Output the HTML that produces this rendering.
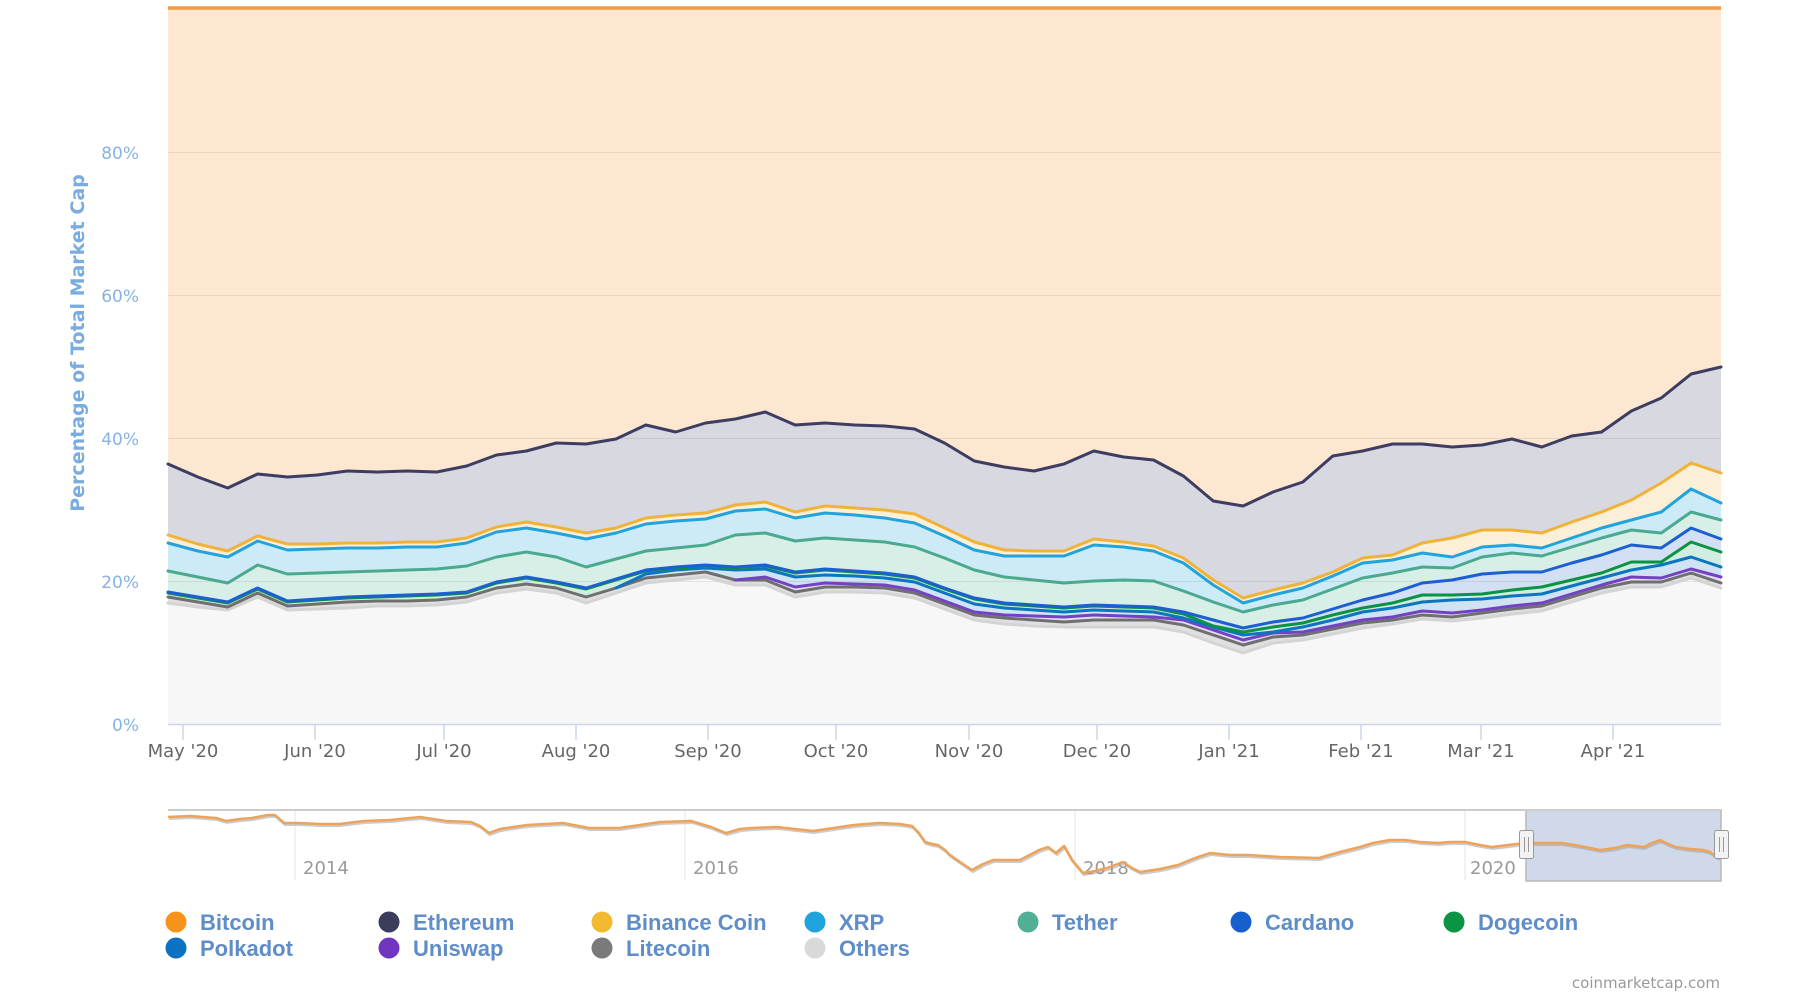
<!DOCTYPE html>
<html><head><meta charset="utf-8"><style>
html,body{margin:0;padding:0;background:#fff;}
svg{display:block;}
.yl{font-family:"DejaVu Sans",sans-serif;font-size:17px;fill:#86b3e3;text-anchor:end;}
.xl{font-family:"DejaVu Sans",sans-serif;font-size:18px;fill:#666;text-anchor:middle;}
.nl{font-family:"DejaVu Sans",sans-serif;font-size:18px;fill:#999;}
.lg{font-family:"Liberation Sans",sans-serif;font-size:22px;font-weight:bold;fill:#5f8dc7;}
.ln{fill:none;stroke-width:3;stroke-linejoin:round;stroke-linecap:round;}
</style></head><body>
<svg width="1800" height="1000" viewBox="0 0 1800 1000" xmlns="http://www.w3.org/2000/svg">
<rect width="1800" height="1000" fill="#fff"/>
<rect x="168" y="8" width="1553" height="716" fill="#fde7d0"/>
<g transform="translate(168,0) scale(29.865,1)">
<polygon fill="#d8d8e1" points="0,464 1,477 2,488 3,474 4,477 5,475 6,471 7,472 8,471 9,472 10,466 11,455 12,451 13,443 14,444 15,439 16,425 17,432 18,423 19,419 20,412 21,425 22,423 23,425 24,426 25,429 26,443 27,461 28,467 29,471 30,464 31,451 32,457 33,460 34,476 35,501 36,506 37,492 38,482 39,456 40,451 41,444 42,444 43,447 44,445 45,439 46,447 47,436 48,432 49,411 50,398 51,374 52,367 52,724 0,724"/>
<polygon fill="#fcefd8" points="0,535 1,544 2,551 3,536 4,544 5,544 6,543 7,543 8,542 9,542 10,538 11,527 12,522 13,527 14,533 15,528 16,518 17,515 18,513 19,505 20,502 21,512 22,506 23,508 24,510 25,514 26,528 27,542 28,550 29,551 30,551 31,539 32,542 33,546 34,558 35,580 36,598 37,590 38,583 39,572 40,558 41,555 42,543 43,538 44,530 45,530 46,533 47,522 48,512 49,500 50,483 51,463 52,473 52,724 0,724"/>
<polygon fill="#cdeaf7" points="0,543 1,551 2,557 3,541 4,550 5,549 6,548 7,548 8,547 9,547 10,543 11,532 12,528 13,533 14,539 15,533 16,524 17,521 18,519 19,511 20,509 21,518 22,513 23,515 24,518 25,523 26,536 27,550 28,556 29,556 30,556 31,545 32,547 33,551 34,563 35,585 36,603 37,595 38,588 39,576 40,563 41,560 42,553 43,557 44,547 45,545 46,548 47,538 48,528 49,520 50,512 51,489 52,503 52,724 0,724"/>
<polygon fill="#d8efe8" points="0,571 1,577 2,583 3,565 4,574 5,573 6,572 7,571 8,570 9,569 10,566 11,557 12,552 13,557 14,567 15,559 16,551 17,548 18,545 19,535 20,533 21,541 22,538 23,540 24,542 25,547 26,558 27,570 28,577 29,580 30,583 31,581 32,580 33,581 34,591 35,602 36,612 37,605 38,600 39,589 40,578 41,573 42,567 43,568 44,557 45,553 46,556 47,547 48,538 49,530 50,533 51,512 52,520 52,724 0,724"/>
<polygon fill="#d3e0f4" points="0,592 1,597 2,602 3,588 4,601 5,599 6,597 7,596 8,595 9,594 10,592 11,582 12,577 13,582 14,588 15,579 16,570 17,567 18,565 19,567 20,565 21,572 22,569 23,571 24,573 25,577 26,588 27,598 28,603 29,605 30,607 31,605 32,606 33,607 34,612 35,620 36,628 37,622 38,618 39,609 40,600 41,593 42,583 43,580 44,574 45,572 46,572 47,563 48,555 49,545 50,548 51,528 52,539 52,724 0,724"/>
<polygon fill="#d1ece0" points="0,593 1,598 2,603 3,589 4,602 5,600 6,598 7,597 8,596 9,595 10,593 11,583 12,578 13,583 14,589 15,580 16,571 17,568 18,566 19,568 20,566 21,573 22,570 23,572 24,574 25,578 26,589 27,599 28,604 29,606 30,608 31,606 32,607 33,608 34,614 35,626 36,632 37,627 38,623 39,615 40,608 41,603 42,595 43,595 44,594 45,590 46,587 47,580 48,573 49,562 50,562 51,542 52,552 52,724 0,724"/>
<polygon fill="#cfe3f3" points="0,597 1,602 2,607 3,593 4,606 5,604 6,602 7,601 8,601 9,600 10,597 11,588 12,584 13,588 14,597 15,588 16,574 17,570 18,568 19,570 20,569 21,577 22,575 23,576 24,578 25,582 26,593 27,604 28,608 29,610 30,612 31,610 32,611 33,612 34,618 35,627 36,635 37,632 38,627 39,620 40,612 41,608 42,602 43,600 44,599 45,596 46,594 47,586 48,578 49,570 50,565 51,557 52,567 52,724 0,724"/>
<polygon fill="#e4dcf2" points="0,597 1,602 2,607 3,593 4,606 5,604 6,602 7,601 8,601 9,600 10,597 11,588 12,584 13,588 14,597 15,588 16,578 17,575 18,572 19,580 20,577 21,587 22,583 23,584 24,585 25,590 26,601 27,612 28,615 29,616 30,617 31,615 32,616 33,617 34,620 35,630 36,640 37,633 38,632 39,626 40,620 41,617 42,611 43,613 44,610 45,606 46,603 47,594 48,585 49,577 50,578 51,569 52,577 52,724 0,724"/>
<polygon fill="#e0e0e0" points="0,597 1,602 2,607 3,593 4,606 5,604 6,602 7,601 8,601 9,600 10,597 11,588 12,584 13,588 14,597 15,588 16,578 17,575 18,572 19,580 20,580 21,592 22,587 23,587 24,588 25,593 26,604 27,615 28,618 29,620 30,622 31,620 32,620 33,620 34,625 35,635 36,645 37,637 38,635 39,629 40,623 41,620 42,615 43,617 44,613 45,609 46,606 47,597 48,588 49,582 50,582 51,573 52,583 52,724 0,724"/>
<polygon fill="#f7f7f7" points="0,603 1,607 2,610 3,597 4,610 5,609 6,608 7,606 8,606 9,605 10,602 11,593 12,589 13,593 14,603 15,593 16,583 17,580 18,577 19,585 20,585 21,597 22,592 23,592 24,593 25,598 26,609 27,620 28,624 29,626 30,627 31,627 32,627 33,627 34,632 35,643 36,653 37,643 38,640 39,634 40,628 41,624 42,619 43,621 44,618 45,614 46,611 47,602 48,593 49,587 50,587 51,578 52,588 52,724 0,724"/>
</g>
<!-- gridlines -->
<g stroke="#000" stroke-opacity="0.08" stroke-width="1">
<line x1="168" y1="152.5" x2="1721" y2="152.5"/>
<line x1="168" y1="295.5" x2="1721" y2="295.5"/>
<line x1="168" y1="438.5" x2="1721" y2="438.5"/>
<line x1="168" y1="581.5" x2="1721" y2="581.5"/>
</g>
<g transform="translate(168,0) scale(29.865,1)">
<polyline class="ln" vector-effect="non-scaling-stroke" stroke="#d4d4d4" points="0,603 1,607 2,610 3,597 4,610 5,609 6,608 7,606 8,606 9,605 10,602 11,593 12,589 13,593 14,603 15,593 16,583 17,580 18,577 19,585 20,585 21,597 22,592 23,592 24,593 25,598 26,609 27,620 28,624 29,626 30,627 31,627 32,627 33,627 34,632 35,643 36,653 37,643 38,640 39,634 40,628 41,624 42,619 43,621 44,618 45,614 46,611 47,602 48,593 49,587 50,587 51,578 52,588"/>
<polyline class="ln" vector-effect="non-scaling-stroke" stroke="#6f6f6f" points="0,597 1,602 2,607 3,593 4,606 5,604 6,602 7,601 8,601 9,600 10,597 11,588 12,584 13,588 14,597 15,588 16,578 17,575 18,572 19,580 20,580 21,592 22,587 23,587 24,588 25,593 26,604 27,615 28,618 29,620 30,622 31,620 32,620 33,620 34,625 35,635 36,645 37,637 38,635 39,629 40,623 41,620 42,615 43,617 44,613 45,609 46,606 47,597 48,588 49,582 50,582 51,573 52,583"/>
<polyline class="ln" vector-effect="non-scaling-stroke" stroke="#7242c2" points="19,580 20,577 21,587 22,583 23,584 24,585 25,590 26,601 27,612 28,615 29,616 30,617 31,615 32,616 33,617 34,620 35,630 36,640 37,633 38,632 39,626 40,620 41,617 42,611 43,613 44,610 45,606 46,603 47,594 48,585 49,577 50,578 51,569 52,577"/>
<polyline class="ln" vector-effect="non-scaling-stroke" stroke="#0c75c0" points="15,588 16,574 17,570 18,568 19,570 20,569 21,577 22,575 23,576 24,578 25,582 26,593 27,604 28,608 29,610 30,612 31,610 32,611 33,612 34,618 35,627 36,635 37,632 38,627 39,620 40,612 41,608 42,602 43,600 44,599 45,596 46,594 47,586 48,578 49,570 50,565 51,557 52,567"/>
<polyline class="ln" vector-effect="non-scaling-stroke" stroke="#0a9343" points="0,593 1,598 2,603 3,589 4,602 5,600 6,598 7,597 8,596 9,595 10,593 11,583 12,578 13,583 14,589 15,580 16,571 17,568 18,566 19,568 20,566 21,573 22,570 23,572 24,574 25,578 26,589 27,599 28,604 29,606 30,608 31,606 32,607 33,608 34,614 35,626 36,632 37,627 38,623 39,615 40,608 41,603 42,595 43,595 44,594 45,590 46,587 47,580 48,573 49,562 50,562 51,542 52,552"/>
<polyline class="ln" vector-effect="non-scaling-stroke" stroke="#1c5fd1" points="0,592 1,597 2,602 3,588 4,601 5,599 6,597 7,596 8,595 9,594 10,592 11,582 12,577 13,582 14,588 15,579 16,570 17,567 18,565 19,567 20,565 21,572 22,569 23,571 24,573 25,577 26,588 27,598 28,603 29,605 30,607 31,605 32,606 33,607 34,612 35,620 36,628 37,622 38,618 39,609 40,600 41,593 42,583 43,580 44,574 45,572 46,572 47,563 48,555 49,545 50,548 51,528 52,539"/>
<polyline class="ln" vector-effect="non-scaling-stroke" stroke="#4aa98e" points="0,571 1,577 2,583 3,565 4,574 5,573 6,572 7,571 8,570 9,569 10,566 11,557 12,552 13,557 14,567 15,559 16,551 17,548 18,545 19,535 20,533 21,541 22,538 23,540 24,542 25,547 26,558 27,570 28,577 29,580 30,583 31,581 32,580 33,581 34,591 35,602 36,612 37,605 38,600 39,589 40,578 41,573 42,567 43,568 44,557 45,553 46,556 47,547 48,538 49,530 50,533 51,512 52,520"/>
<polyline class="ln" vector-effect="non-scaling-stroke" stroke="#22a3db" points="0,543 1,551 2,557 3,541 4,550 5,549 6,548 7,548 8,547 9,547 10,543 11,532 12,528 13,533 14,539 15,533 16,524 17,521 18,519 19,511 20,509 21,518 22,513 23,515 24,518 25,523 26,536 27,550 28,556 29,556 30,556 31,545 32,547 33,551 34,563 35,585 36,603 37,595 38,588 39,576 40,563 41,560 42,553 43,557 44,547 45,545 46,548 47,538 48,528 49,520 50,512 51,489 52,503"/>
<polyline class="ln" vector-effect="non-scaling-stroke" stroke="#f0b33a" points="0,535 1,544 2,551 3,536 4,544 5,544 6,543 7,543 8,542 9,542 10,538 11,527 12,522 13,527 14,533 15,528 16,518 17,515 18,513 19,505 20,502 21,512 22,506 23,508 24,510 25,514 26,528 27,542 28,550 29,551 30,551 31,539 32,542 33,546 34,558 35,580 36,598 37,590 38,583 39,572 40,558 41,555 42,543 43,538 44,530 45,530 46,533 47,522 48,512 49,500 50,483 51,463 52,473"/>
<polyline class="ln" vector-effect="non-scaling-stroke" stroke="#3d3d62" points="0,464 1,477 2,488 3,474 4,477 5,475 6,471 7,472 8,471 9,472 10,466 11,455 12,451 13,443 14,444 15,439 16,425 17,432 18,423 19,419 20,412 21,425 22,423 23,425 24,426 25,429 26,443 27,461 28,467 29,471 30,464 31,451 32,457 33,460 34,476 35,501 36,506 37,492 38,482 39,456 40,451 41,444 42,444 43,447 44,445 45,439 46,447 47,436 48,432 49,411 50,398 51,374 52,367"/>
</g>
<line x1="168" y1="8" x2="1721" y2="8" stroke="#f29a3f" stroke-width="3.5"/>
<!-- x axis -->
<line x1="168" y1="724.5" x2="1721" y2="724.5" stroke="#ccd6eb" stroke-width="1.5"/>
<g stroke="#ccd6eb" stroke-width="1.5">
<line x1="183" y1="724" x2="183" y2="740"/><line x1="315" y1="724" x2="315" y2="740"/><line x1="444" y1="724" x2="444" y2="740"/><line x1="576" y1="724" x2="576" y2="740"/><line x1="708" y1="724" x2="708" y2="740"/><line x1="836" y1="724" x2="836" y2="740"/><line x1="969" y1="724" x2="969" y2="740"/><line x1="1097" y1="724" x2="1097" y2="740"/><line x1="1229" y1="724" x2="1229" y2="740"/><line x1="1361" y1="724" x2="1361" y2="740"/><line x1="1481" y1="724" x2="1481" y2="740"/><line x1="1613" y1="724" x2="1613" y2="740"/>
</g>
<text class="xl" x="183" y="757">May '20</text>
<text class="xl" x="315" y="757">Jun '20</text>
<text class="xl" x="444" y="757">Jul '20</text>
<text class="xl" x="576" y="757">Aug '20</text>
<text class="xl" x="708" y="757">Sep '20</text>
<text class="xl" x="836" y="757">Oct '20</text>
<text class="xl" x="969" y="757">Nov '20</text>
<text class="xl" x="1097" y="757">Dec '20</text>
<text class="xl" x="1229" y="757">Jan '21</text>
<text class="xl" x="1361" y="757">Feb '21</text>
<text class="xl" x="1481" y="757">Mar '21</text>
<text class="xl" x="1613" y="757">Apr '21</text>
<!-- y labels -->
<text class="yl" x="139" y="731">0%</text>
<text class="yl" x="139" y="588">20%</text>
<text class="yl" x="139" y="445">40%</text>
<text class="yl" x="139" y="302">60%</text>
<text class="yl" x="139" y="159">80%</text>
<text transform="translate(84,343) rotate(-90)" text-anchor="middle" style="font-family:'DejaVu Sans',sans-serif;font-size:19px;font-weight:bold;fill:#79acdf;">Percentage of Total Market Cap</text>
<!-- navigator -->
<g stroke="#e6e6e6" stroke-width="1">
<line x1="295" y1="810" x2="295" y2="880"/><line x1="685" y1="810" x2="685" y2="880"/><line x1="1075" y1="810" x2="1075" y2="880"/><line x1="1465" y1="810" x2="1465" y2="880"/>
</g>
<rect x="1526" y="810" width="195" height="71" fill="#d0d9ea" stroke="#b8b8b8" stroke-width="1.5"/>
<line x1="168" y1="810" x2="1721" y2="810" stroke="#cccccc" stroke-width="2"/>
<text class="nl" x="303" y="874">2014</text>
<text class="nl" x="693" y="874">2016</text>
<text class="nl" x="1083" y="874">2018</text>
<text class="nl" x="1470" y="874">2020</text>
<polyline fill="none" stroke="#9a9a9a" stroke-opacity="0.5" stroke-width="3" transform="translate(1,1.5)" points="168,817 190,816 216,818 226,821 240,819 252,818 268,815 275,815 284,823 298,823 320,824 339,824 364,821 390,820 420,817 446,821 471,822 480,826 489,833 500,829 527,825 563,823 589,828 619,828 640,825 660,822 691,821 711,827 726,833 740,829 752,828 777,827 813,831 854,825 879,823 900,824 912,826 918,832 925,842 932,844 938,845 945,850 950,855 960,862 972,870 983,864 993,860 1020,860 1039,850 1048,847 1056,853 1064,846 1072,860 1083,873 1095,871 1107,868 1123,862 1132,868 1140,872 1160,869 1178,865 1195,858 1210,853 1230,855 1248,855 1280,857 1319,858 1340,852 1360,847 1373,843 1390,840 1405,840 1420,842 1438,843 1450,842 1465,842 1480,845 1492,847 1508,845 1525,843 1545,843 1562,843 1580,846 1600,850 1615,848 1627,845 1644,847 1652,843 1660,840 1668,844 1676,847 1690,849 1703,850 1710,852 1714,855 1719,858"/>
<polyline fill="none" stroke="#eea35a" stroke-width="2.5" stroke-linejoin="round" points="168,817 190,816 216,818 226,821 240,819 252,818 268,815 275,815 284,823 298,823 320,824 339,824 364,821 390,820 420,817 446,821 471,822 480,826 489,833 500,829 527,825 563,823 589,828 619,828 640,825 660,822 691,821 711,827 726,833 740,829 752,828 777,827 813,831 854,825 879,823 900,824 912,826 918,832 925,842 932,844 938,845 945,850 950,855 960,862 972,870 983,864 993,860 1020,860 1039,850 1048,847 1056,853 1064,846 1072,860 1083,873 1095,871 1107,868 1123,862 1132,868 1140,872 1160,869 1178,865 1195,858 1210,853 1230,855 1248,855 1280,857 1319,858 1340,852 1360,847 1373,843 1390,840 1405,840 1420,842 1438,843 1450,842 1465,842 1480,845 1492,847 1508,845 1525,843 1545,843 1562,843 1580,846 1600,850 1615,848 1627,845 1644,847 1652,843 1660,840 1668,844 1676,847 1690,849 1703,850 1710,852 1714,855 1719,858"/>
<g stroke="#999" stroke-width="1">
<rect x="1519.5" y="830.5" width="14" height="28" rx="2" fill="#f2f2f2"/>
<line x1="1524.5" y1="837" x2="1524.5" y2="852"/><line x1="1528.5" y1="837" x2="1528.5" y2="852"/>
<rect x="1714.5" y="830.5" width="14" height="28" rx="2" fill="#f2f2f2"/>
<line x1="1719.5" y1="837" x2="1719.5" y2="852"/><line x1="1723.5" y1="837" x2="1723.5" y2="852"/>
</g>
<!-- legend -->
<circle cx="176" cy="922" r="10.5" fill="#f7931a"/><text class="lg" x="200" y="930">Bitcoin</text>
<circle cx="389" cy="922" r="10.5" fill="#3c3c5d"/><text class="lg" x="413" y="930">Ethereum</text>
<circle cx="602" cy="922" r="10.5" fill="#f3ba2f"/><text class="lg" x="626" y="930">Binance Coin</text>
<circle cx="815" cy="922" r="10.5" fill="#1fa3dc"/><text class="lg" x="839" y="930">XRP</text>
<circle cx="1028" cy="922" r="10.5" fill="#50af95"/><text class="lg" x="1052" y="930">Tether</text>
<circle cx="1241" cy="922" r="10.5" fill="#165fce"/><text class="lg" x="1265" y="930">Cardano</text>
<circle cx="1454" cy="922" r="10.5" fill="#0b9444"/><text class="lg" x="1478" y="930">Dogecoin</text>
<circle cx="176" cy="948" r="10.5" fill="#0b72c2"/><text class="lg" x="200" y="956">Polkadot</text>
<circle cx="389" cy="948" r="10.5" fill="#7235c0"/><text class="lg" x="413" y="956">Uniswap</text>
<circle cx="602" cy="948" r="10.5" fill="#7a7a7a"/><text class="lg" x="626" y="956">Litecoin</text>
<circle cx="815" cy="948" r="10.5" fill="#d9d9d9"/><text class="lg" x="839" y="956">Others</text>
<text x="1720" y="988" text-anchor="end" style="font-family:'DejaVu Sans',sans-serif;font-size:15px;fill:#999;">coinmarketcap.com</text>
</svg>
</body></html>
